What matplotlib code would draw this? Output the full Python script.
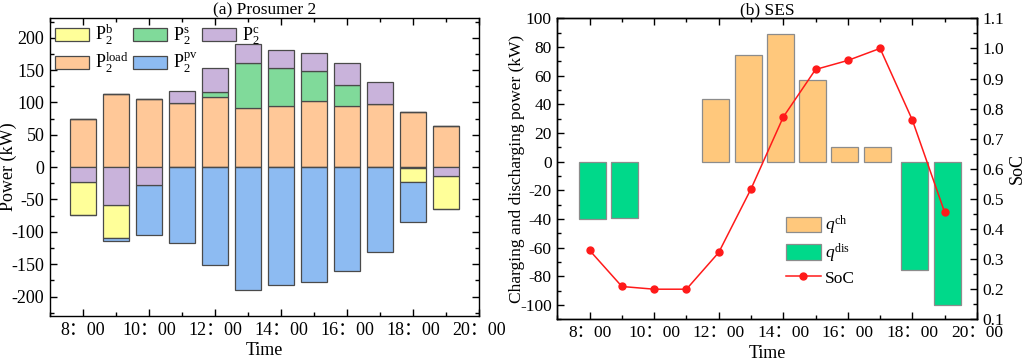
import matplotlib
matplotlib.use("Agg")
import matplotlib.pyplot as plt
from matplotlib.ticker import MultipleLocator, FixedLocator
import numpy as np

plt.rcParams['font.family'] = ['Liberation Serif', 'Noto Sans CJK SC']
plt.rcParams['mathtext.fontset'] = 'custom'
plt.rcParams['mathtext.rm'] = 'Liberation Serif'
plt.rcParams['mathtext.it'] = 'Liberation Serif:italic'
plt.rcParams['axes.unicode_minus'] = False

hours = np.arange(8, 20)
tick_hours = [8, 10, 12, 14, 16, 18, 20]
tick_labels = ["8：00", "10：00", "12：00", "14：00", "16：00", "18：00", "20：00"]

# Panel (a) Prosumer 2
p_load = [74, 113, 105, 99.5, 108, 91, 94.5, 101.5, 94.5, 98, 84.5, 63]
p_s = [0, 0, 0, 0, 7.5, 70.5, 58, 46.5, 33, 0, 0, 0]
p_c_pos = [0, 0, 0, 18, 37, 29, 29, 29, 34, 33, 0, 0]
p_c_neg = [-23.5, -58.7, -28, 0, 0, 0, 0, 0, 0, 0, -1, -13.3]
p_b = [-50.5, -50.5, 0, 0, 0, 0, 0, 0, 0, 0, -22, -51]
p_pv = [0, -4.6, -76.6, -117.3, -151.5, -190, -181.6, -177, -161.2, -130.6, -62, 0]

# Panel (b) SES
ch_hours = [12, 13, 14, 15, 16, 17]
q_ch = [44, 74.6, 88.8, 56.9, 10.3, 10.3]
dis_hours = [8, 9, 18, 19]
q_dis = [-40, -39, -75.3, -100]
soc = [0.329, 0.209, 0.2, 0.2, 0.322, 0.533, 0.772, 0.93, 0.96, 1.0, 0.762, 0.456]

c_yellow = '#FFFF99'
c_green = '#80DA9A'
c_purple = '#C9B3DB'
c_orange = '#FFC898'
c_blue = '#8DBBF2'
edge = '#4A4A4A'

fig = plt.figure(figsize=(10.24, 3.61), dpi=100)
ax1 = fig.add_axes([0.0488, 0.1247, 0.4190, 0.8246])
ax2 = fig.add_axes([0.5443, 0.1155, 0.4097, 0.8338])

w = 0.8
lw = 0.9
p_load = np.array(p_load); p_s = np.array(p_s); p_c_pos = np.array(p_c_pos)
p_c_neg = np.array(p_c_neg); p_b = np.array(p_b); p_pv = np.array(p_pv)

def bars(ax, x, vals, bottom, color, label):
    return ax.bar(x, vals, w, bottom=bottom, color=color, edgecolor=edge, linewidth=lw, label=label)

hb = bars(ax1, hours, p_b, p_c_neg, c_yellow, r'$\mathrm{P}_2^{\mathrm{b}}$')
hl = bars(ax1, hours, p_load, 0, c_orange, r'$\mathrm{P}_2^{\mathrm{load}}$')
hs = bars(ax1, hours, p_s, p_load, c_green, r'$\mathrm{P}_2^{\mathrm{s}}$')
hpv = bars(ax1, hours, p_pv, p_c_neg + p_b, c_blue, r'$\mathrm{P}_2^{\mathrm{pv}}$')
hc = bars(ax1, hours, p_c_pos, p_load + p_s, c_purple, r'$\mathrm{P}_2^{\mathrm{c}}$')
bars(ax1, hours, p_c_neg, 0, c_purple, None)

ax1.set_xlim(7, 20)
ax1.set_ylim(-230, 230)
ax1.xaxis.set_major_locator(FixedLocator(tick_hours))
ax1.set_xticklabels(tick_labels)
ax1.xaxis.set_minor_locator(MultipleLocator(1))
ax1.yaxis.set_major_locator(MultipleLocator(50))
ax1.yaxis.set_minor_locator(MultipleLocator(25))
ax1.set_xlabel('Time', fontsize=13)
ax1.set_ylabel('Power (kW)', fontsize=13)
ax1.xaxis.set_label_coords(0.5, -0.088)
ax1.yaxis.set_label_coords(-0.077, 0.5)
ax1.set_title('(a) Prosumer 2', fontsize=12.5, pad=2)
ax1.legend(handles=[hb, hl, hs, hpv, hc], ncol=3, loc='upper left',
           bbox_to_anchor=(0.012, 0.985), frameon=False, fontsize=13,
           handlelength=1.9, handleheight=0.8, columnspacing=0.25,
           handletextpad=0.3, labelspacing=0.2, borderaxespad=0, borderpad=0)

# Panel (b)
ax2.bar(np.array(ch_hours) - 0.09, q_ch, 0.84, color='#FFC87C', edgecolor='#8C8C8C',
        linewidth=lw, label=r'$q^{\mathrm{ch}}$')
ax2.bar(np.array(dis_hours) + 0.08, q_dis, 0.84, color='#00D98A', edgecolor='#8C8C8C',
        linewidth=lw, label=r'$q^{\mathrm{dis}}$')
ax2.set_xlim(7, 20)
ax2.set_ylim(-110, 100)
ax2.xaxis.set_major_locator(FixedLocator(tick_hours))
ax2.set_xticklabels(tick_labels)
ax2.xaxis.set_minor_locator(MultipleLocator(1))
ax2.yaxis.set_major_locator(MultipleLocator(20))
ax2.yaxis.set_minor_locator(MultipleLocator(10))
ax2.set_xlabel('Time', fontsize=13)
ax2.set_ylabel('Charging and discharging power (kW)', fontsize=12.5)
ax2.xaxis.set_label_coords(0.5, -0.085)
ax2.yaxis.set_label_coords(-0.076, 0.5)
ax2.set_title('(b) SES', fontsize=12.5, pad=2)

ax3 = ax2.twinx()
ln, = ax3.plot(hours, soc, color='#FF1A1A', marker='o', markersize=5, linewidth=1.1, label='SoC')
ax3.set_ylim(0.1, 1.1)
ax3.set_yticks(np.round(np.arange(0.1, 1.101, 0.1), 1))
ax3.set_yticklabels([f'{v:.1f}' for v in np.arange(0.1, 1.101, 0.1)])
ax3.yaxis.set_minor_locator(MultipleLocator(0.05))
ax3.set_ylabel('SoC', fontsize=13)
ax3.yaxis.set_label_coords(1.075, 0.5)
ax3.tick_params(axis='y', which='major', direction='in', length=5, labelsize=12.5, width=1, pad=4)
ax3.tick_params(axis='y', which='minor', direction='in', length=3, width=1)

h2, l2 = ax2.get_legend_handles_labels()
ax2.legend(h2 + [ln], l2 + ['SoC'], loc='upper left', bbox_to_anchor=(0.545, 0.35),
           frameon=False, fontsize=12.5, handlelength=2.0, handleheight=1.0,
           handletextpad=0.25, labelspacing=0.25, borderaxespad=0, borderpad=0)

for ax, ls in ((ax1, 13), (ax2, 12.5)):
    ax.tick_params(axis='both', which='major', direction='in', length=5, width=1, labelsize=ls,
                   top=True, pad=4)
    ax.tick_params(axis='both', which='minor', direction='in', length=3, width=1, top=True)
    for s in ax.spines.values():
        s.set_linewidth(1.0)
ax1.tick_params(axis='y', which='both', right=True)
for s in ax3.spines.values():
    s.set_linewidth(1.0)

fig.savefig('out.png', dpi=100)
